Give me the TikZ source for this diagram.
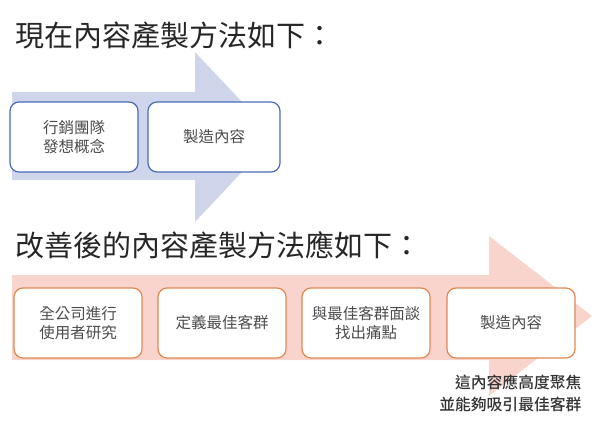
\documentclass[tikz,border=0pt]{standalone}
\usepackage{fontspec}
\setmainfont{Noto Sans CJK TC}
\newfontfamily\cjkm{Noto Sans CJK TC Medium}
\begin{document}
\begin{tikzpicture}[x=1pt,y=-1pt,
  bbox/.style={draw=#1,line width=1.2pt,rounded corners=9pt,fill=white,minimum width=128pt,minimum height=70pt,align=center,font=\fontsize{15.5}{19}\selectfont,text=black!70},
  ttl/.style={anchor=west,font=\fontsize{29}{32}\selectfont,text=black!85}]
\useasboundingbox (0,0) rectangle (600,433);
\definecolor{barblue}{HTML}{CFD5EA}
\definecolor{barpink}{HTML}{F8D4CC}
\definecolor{bdblue}{HTML}{4A6BB8}
\definecolor{bdorange}{HTML}{E08850}
\node[ttl] (t1) at (12,35) {現在內容產製方法如下：};
\fill[barblue] (12,92) -- (195,92) -- (195,52) -- (275,137) -- (195,222) -- (195,180) -- (12,180) -- cycle;
\node[bbox=bdblue] (a1) at (74,137) {行銷團隊\\發想概念};
\node[bbox=bdblue,minimum width=132pt] (a2) at (214,137) {製造內容};
\node[ttl] (t2) at (12,245) {改善後的內容產製方法應如下：};
\fill[barpink] (12,275) -- (489,275) -- (489,236) -- (592,316) -- (489,396) -- (489,360) -- (12,360) -- cycle;
\node[bbox=bdorange] (b1) at (78,323) {全公司進行\\使用者研究};
\node[bbox=bdorange] (b2) at (222,323) {定義最佳客群};
\node[bbox=bdorange] (b3) at (366,323) {與最佳客群面談\\找出痛點};
\node[bbox=bdorange] (b4) at (511,323) {製造內容};
\node[anchor=north east,align=right,font=\fontsize{15.8}{22}\cjkm,text=black!80] (n) at (585,371) {這內容應高度聚焦\\並能夠吸引最佳客群};
\end{tikzpicture}
\end{document}
